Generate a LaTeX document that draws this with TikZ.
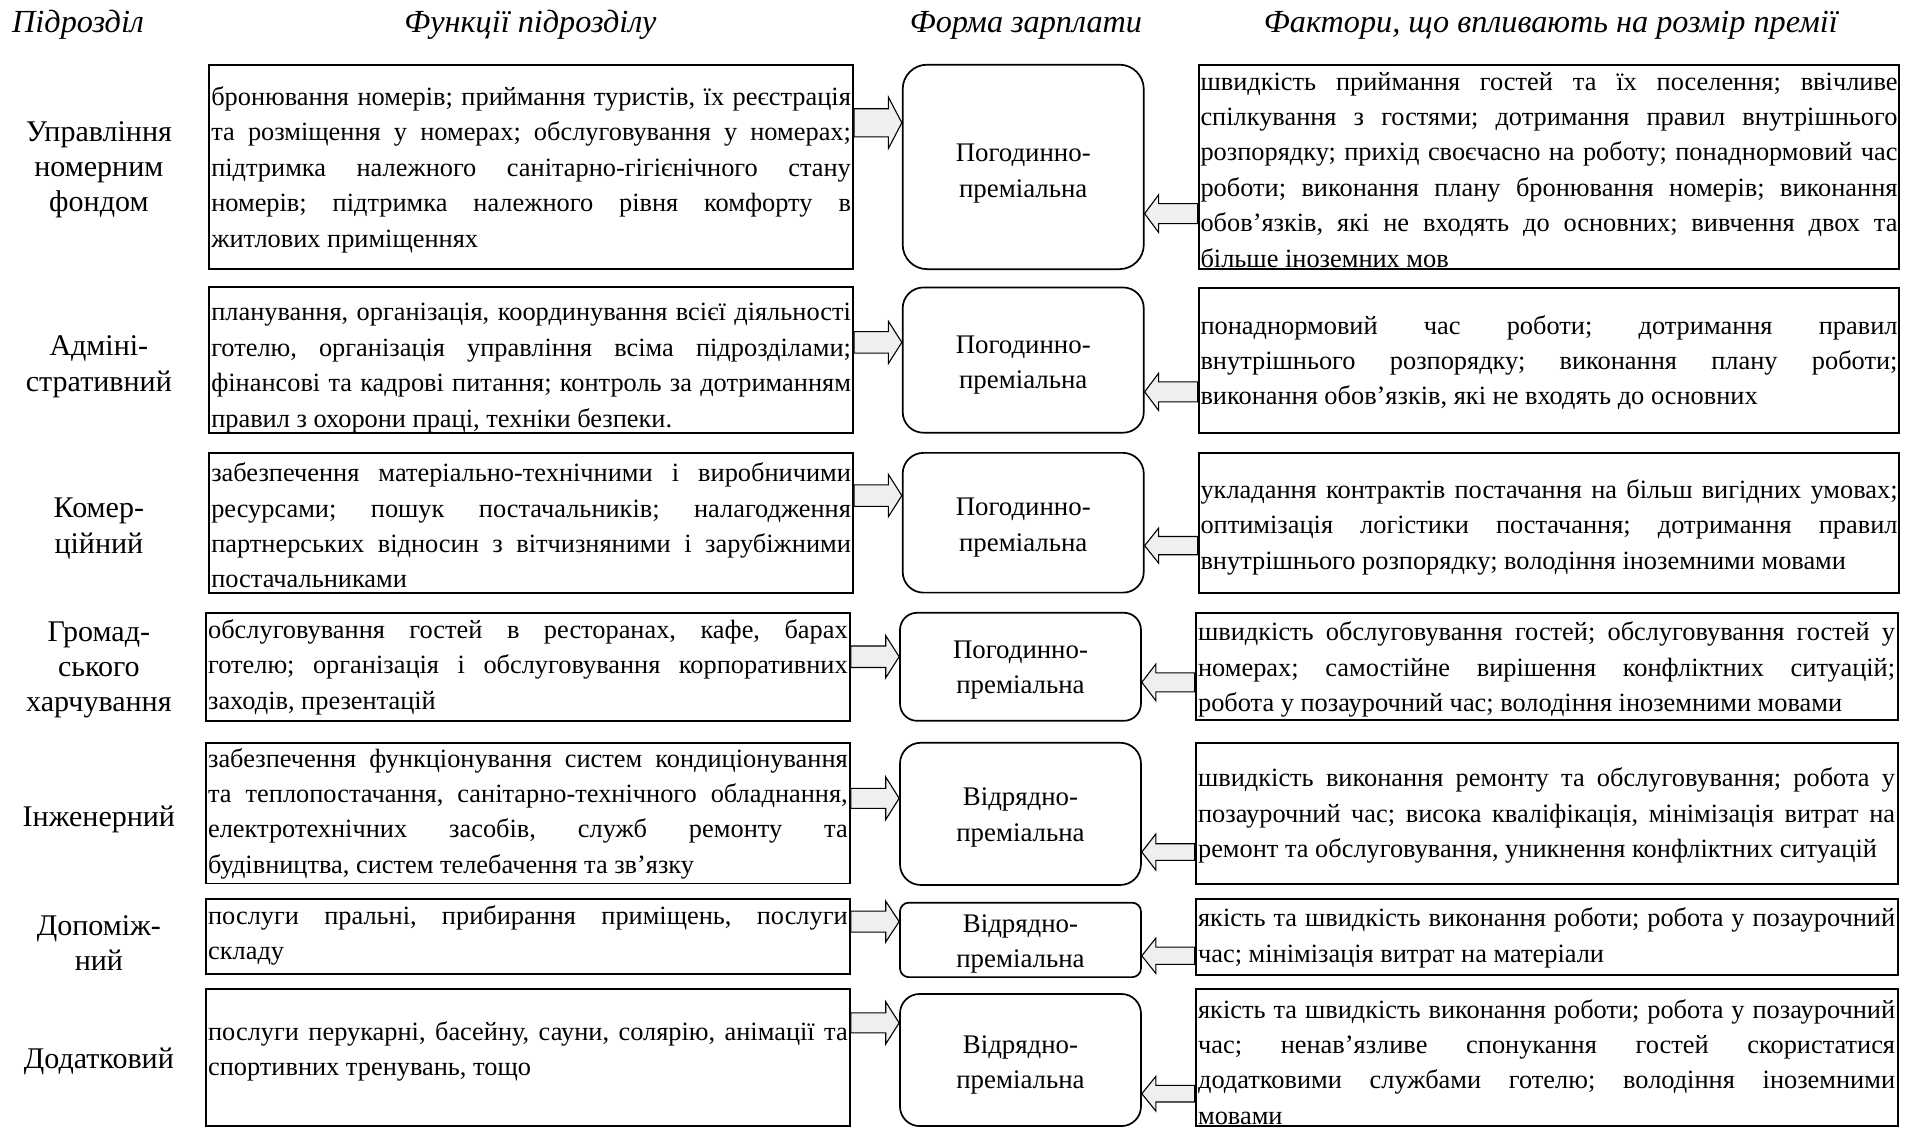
\documentclass[tikz,border=0pt]{standalone}
\usepackage{fontspec}
\setmainfont{Liberation Serif}
\usetikzlibrary{calc,fit}
\definecolor{arrowfill}{HTML}{EFEFEF}
\newcommand\fl[1]{\leavevmode\hbox to \hsize{\spaceskip=0pt\xspaceskip=0pt\relax #1}\\}
\newcommand\lastln[1]{\mbox{#1}}
\newcommand\rarr[5]{%
  \coordinate (ay) at (0,#3);
  \coordinate (as) at (#1.east |- ay);
  \coordinate (at) at (#2.west |- ay);
  \draw[barrow] ($(as)+(0,-#4)$) -- ($(at)+(-11,-#4)$) -- ($(at)+(-11,-#5)$) -- (at)
    -- ($(at)+(-11,#5)$) -- ($(at)+(-11,#4)$) -- ($(as)+(0,#4)$) -- cycle;}
\newcommand\larr[5]{%
  \coordinate (ay) at (0,#3);
  \coordinate (as) at (#1.west |- ay);
  \coordinate (at) at (#2.east |- ay);
  \draw[barrow] ($(as)+(0,-#4)$) -- ($(at)+(11.5,-#4)$) -- ($(at)+(11.5,-#5)$) -- (at)
    -- ($(at)+(11.5,#5)$) -- ($(at)+(11.5,#4)$) -- ($(as)+(0,#4)$) -- cycle;}
\begin{document}
\frenchspacing
\begin{tikzpicture}[x=0.5pt,y=-0.5pt,
  sqbox/.style={draw, line width=0.8pt, inner sep=0pt},
  rbox/.style={draw, line width=0.7pt, inner sep=0pt},
  btext/.style={inner sep=0pt, align=justify, font=\fontsize{10.8pt}{14.5pt}\selectfont\frenchspacing},
  ftext/.style={btext, text width=262pt},
  rtext/.style={btext, text width=285.5pt},
  ptext/.style={inner sep=0pt, align=center, font=\fontsize{11pt}{14.4pt}\selectfont},
  dept/.style={inner sep=0pt, align=center, font=\fontsize{12.3pt}{14.4pt}\selectfont},
  colhead/.style={inner sep=0pt, anchor=base, font=\fontsize{13.2pt}{15pt}\selectfont\itshape},
  barrow/.style={draw, fill=arrowfill, line width=0.45pt, line join=miter}]
\useasboundingbox (0,0) rectangle (1568,924);

% headers
\node[colhead] (h1) at (64,27) {Підрозділ};
\node[colhead] (h2) at (434.5,27) {Функції підрозділу};
\node[colhead] (h3) at (840.5,27) {Форма зарплати};
\node[colhead] (h4) at (1270.5,27) {Фактори, що впливають на розмір премії};

% department labels
\node[dept] (l1) at (81,139) {Управління\\номерним\\фондом};
\node[dept] (l2) at (81,300.5) {Адміні-\\стративний};
\node[dept] (l3) at (81,433) {Комер-\\ційний};
\node[dept] (l4) at (81,549) {Громад-\\ського\\харчування};
\node[dept] (l5) at (81,671.5) {Інженерний};
\node[dept] (l6) at (81,772.5) {Допоміж-\\ний};
\node[dept] (l7) at (81,869.5) {Додатковий};

% function boxes
\node[sqbox, fit={(171.5,53) (698.8,220.5)}] (f1) {};
\node[sqbox, fit={(171.5,235.5) (698.8,354.5)}] (f2) {};
\node[sqbox, fit={(171.5,371) (698.8,485.5)}] (f3) {};
\node[sqbox, fit={(168.8,502) (696.3,590.5)}] (f4) {};
\node[sqbox, fit={(168.8,608.5) (696.3,723.8)}] (f5) {};
\node[sqbox, fit={(168.8,736.8) (696.3,798)}] (f6) {};
\node[sqbox, fit={(168.8,810.5) (696.3,922.5)}] (f7) {};

\node[ftext] (f1t) at (435.1,139) {\fl{бронювання номерів; приймання туристів, їх реєстрація}\fl{та розміщення у номерах; обслуговування у номерах;}\fl{підтримка належного санітарно-гігієнічного стану}\fl{номерів; підтримка належного рівня комфорту в}\lastln{житлових приміщеннях}};
\node[ftext] (f2t) at (435.1,301.5) {\fl{планування, організація, координування всієї діяльності}\fl{готелю, організація управління всіма підрозділами;}\fl{фінансові та кадрові питання; контроль за дотриманням}\lastln{правил з охорони праці, техніки безпеки.}};
\node[ftext] (f3t) at (435.1,430.5) {\fl{забезпечення матеріально-технічними і виробничими}\fl{ресурсами; пошук постачальників; налагодження}\fl{партнерських відносин з вітчизняними і зарубіжними}\lastln{постачальниками}};
\node[ftext] (f4t) at (432.5,546.5) {\fl{обслуговування гостей в ресторанах, кафе, барах}\fl{готелю; організація і обслуговування корпоративних}\lastln{заходів, презентацій}};
\node[ftext] (f5t) at (432.5,666.5) {\fl{забезпечення функціонування систем кондиціонування}\fl{та теплопостачання, санітарно-технічного обладнання,}\fl{електротехнічних засобів, служб ремонту та}\lastln{будівництва, систем телебачення та зв'язку}};
\node[ftext] (f6t) at (432.5,766.5) {\fl{послуги пральні, прибирання приміщень, послуги}\lastln{складу}};
\node[ftext] (f7t) at (432.5,861.5) {\fl{послуги перукарні, басейну, сауни, солярію, анімації та}\lastln{спортивних тренувань, тощо}};

% pay form boxes
\node[rbox, rounded corners=10pt, fit={(739.5,53) (937,220.5)}] (p1) {};
\node[rbox, rounded corners=8.5pt, fit={(739.5,235.5) (937,354.5)}] (p2) {};
\node[rbox, rounded corners=8.5pt, fit={(739.5,371) (937,485.5)}] (p3) {};
\node[rbox, rounded corners=7pt, fit={(737.3,502) (934.7,590.5)}] (p4) {};
\node[rbox, rounded corners=8.5pt, fit={(737.3,608.5) (934.7,725)}] (p5) {};
\node[rbox, rounded corners=3.6pt, fit={(737.3,739.5) (934.7,800.5)}] (p6) {};
\node[rbox, rounded corners=8pt, fit={(737.3,814.3) (934.7,922.5)}] (p7) {};

\node[ptext] (p1t) at ($(p1.center)+(0,5.5)$) {Погодинно-\\преміальна};
\node[ptext] (p2t) at ($(p2.center)+(0,4)$) {Погодинно-\\преміальна};
\node[ptext] (p3t) at ($(p3.center)+(0,4)$) {Погодинно-\\преміальна};
\node[ptext] (p4t) at ($(p4.center)+(0,3)$) {Погодинно-\\преміальна};
\node[ptext] (p5t) at ($(p5.center)+(0,3)$) {Відрядно-\\преміальна};
\node[ptext] (p6t) at ($(p6.center)+(0,3)$) {Відрядно-\\преміальна};
\node[ptext] (p7t) at ($(p7.center)+(0,4)$) {Відрядно-\\преміальна};

% factor boxes
\node[sqbox, fit={(982,53) (1556,220.5)}] (r1) {};
\node[sqbox, fit={(982,236.2) (1556,354.4)}] (r2) {};
\node[sqbox, fit={(982,371.4) (1556,485.5)}] (r3) {};
\node[sqbox, fit={(979.5,502) (1554.5,589.8)}] (r4) {};
\node[sqbox, fit={(979.5,608.4) (1554.5,724)}] (r5) {};
\node[sqbox, fit={(979.5,736.7) (1554.5,798.5)}] (r6) {};
\node[sqbox, fit={(979.5,810.5) (1554.5,922.5)}] (r7) {};

\node[rtext] (r1t) at (1269,139) {\fl{швидкість приймання гостей та їх поселення; ввічливе}\fl{спілкування з гостями; дотримання правил внутрішнього}\fl{розпорядку; прихід своєчасно на роботу; понаднормовий час}\fl{роботи; виконання плану бронювання номерів; виконання}\fl{обов’язків, які не входять до основних; вивчення двох та}\lastln{більше іноземних мов}};
\node[rtext] (r2t) at (1269,297) {\fl{понаднормовий час роботи; дотримання правил}\fl{внутрішнього розпорядку; виконання плану роботи;}\lastln{виконання обов’язків, які не входять до основних}};
\node[rtext] (r3t) at (1269,432) {\fl{укладання контрактів постачання на більш вигідних умовах;}\fl{оптимізація логістики постачання; дотримання правил}\lastln{внутрішнього розпорядку; володіння іноземними мовами}};
\node[rtext] (r4t) at (1267,548.5) {\fl{швидкість обслуговування гостей; обслуговування гостей у}\fl{номерах; самостійне вирішення конфліктних ситуацій;}\lastln{робота у позаурочний час; володіння іноземними мовами}};
\node[rtext] (r5t) at (1267,668.3) {\fl{швидкість виконання ремонту та обслуговування; робота у}\fl{позаурочний час; висока кваліфікація, мінімізація витрат на}\lastln{ремонт та обслуговування, уникнення конфліктних ситуацій}};
\node[rtext] (r6t) at (1267,768.3) {\fl{якість та швидкість виконання роботи; робота у позаурочний}\lastln{час; мінімізація витрат на матеріали}};
\node[rtext] (r7t) at (1267,870) {\fl{якість та швидкість виконання роботи; робота у позаурочний}\fl{час; ненав’язливе спонукання гостей скористатися}\fl{додатковими службами готелю; володіння іноземними}\lastln{мовами}};

% arrows: functions -> pay form
\rarr{f1}{p1}{100.6}{11.5}{21}
\rarr{f2}{p2}{280.5}{8.8}{17.3}
\rarr{f3}{p3}{406}{8.8}{17.3}
\rarr{f4}{p4}{538}{8.8}{17.3}
\rarr{f5}{p5}{654}{8.2}{17.5}
\rarr{f6}{p6}{755}{8.6}{16.7}
\rarr{f7}{p7}{838}{8.2}{17.3}
% arrows: factors -> pay form
\larr{r1}{p1}{175}{8.2}{15.5}
\larr{r2}{p2}{321}{8.2}{15.3}
\larr{r3}{p3}{447}{7.5}{14.4}
\larr{r4}{p4}{559}{7.8}{15}
\larr{r5}{p5}{698}{6.8}{14.8}
\larr{r6}{p6}{783}{7.1}{14.5}
\larr{r7}{p7}{896}{6.8}{14.2}
\end{tikzpicture}
\end{document}
